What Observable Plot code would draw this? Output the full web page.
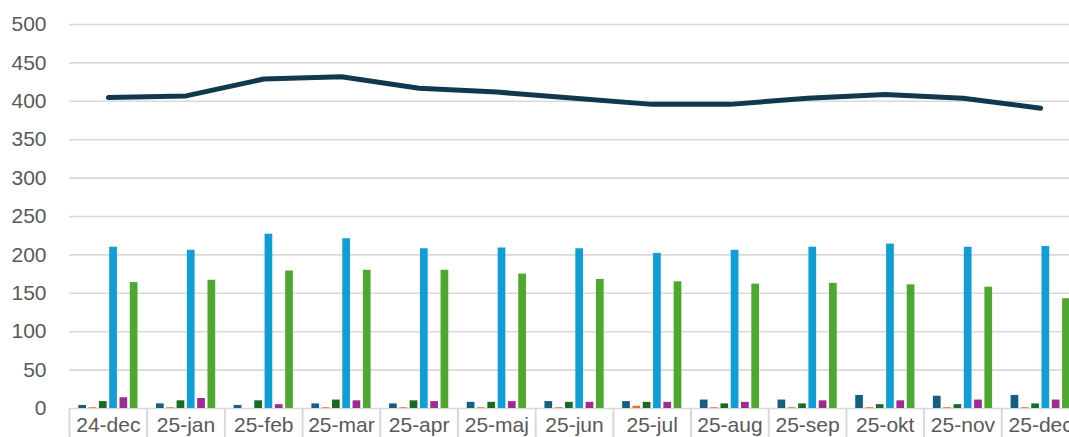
<!DOCTYPE html>
<html>
<head>
<meta charset="utf-8">
<script src="https://cdn.jsdelivr.net/npm/d3@7"></script>
<script src="https://cdn.jsdelivr.net/npm/@observablehq/plot@0.6"></script>
<style>
  html, body { margin: 0; padding: 0; background: #fff; overflow: hidden; }
</style>
</head>
<body>
<div id="chart"></div>
<script>
// ---- data ----
const months = ["24-dec","25-jan","25-feb","25-mar","25-apr","25-maj","25-jun","25-jul","25-aug","25-sep","25-okt","25-nov","25-dec"];
const total  = [405, 407, 429, 432, 417, 412, 404, 396, 396, 404, 409, 404, 391];
const serie1 = [4, 6, 4, 6, 6, 8, 9, 9, 11, 11, 17, 16, 17];
const serie2 = [1, 1, 0, 1, 1, 1, 1, 3, 1, 1, 1, 1, 1];
const serie3 = [9, 10, 10, 11, 10, 8, 8, 8, 6, 6, 5, 5, 6];
const serie4 = [210, 206, 227, 221, 208, 209, 208, 202, 206, 210, 214, 210, 211];
const serie5 = [14, 13, 5, 10, 9, 9, 8, 8, 8, 10, 10, 11, 11];
const serie6 = [164, 167, 179, 180, 180, 175, 168, 165, 162, 163, 161, 158, 143];
const yTicks = [0, 50, 100, 150, 200, 250, 300, 350, 400, 450, 500];

const seriesValues = [serie1, serie2, serie3, serie4, serie5, serie6];
const seriesColors = ["#156082", "#E97132", "#196B24", "#0F9ED5", "#A02B93", "#4EA72E"];

// ---- layout ----
const W = 1069, H = 437;
const xRange = [69, 1079];
const bw = (xRange[1] - xRange[0]) / months.length;
const groupLeft = 9.3, step = 10.3, barW = 7.7;

const idx = d3.range(months.length);

const barMarks = seriesValues.map((vals, s) =>
  Plot.barY(idx, {
    x: i => months[i],
    y: i => vals[i],
    fill: seriesColors[s],
    insetLeft: groupLeft + step * s,
    insetRight: bw - (groupLeft + step * s + barW)
  })
);

const chart = Plot.plot({
  width: W,
  height: H,
  marginTop: 24,
  marginBottom: 29,
  marginLeft: 69,
  marginRight: 0,
  style: { fontFamily: "'Liberation Sans', Arial, sans-serif", color: "#595959", background: "#fff", overflow: "hidden" },
  x: { type: "band", domain: months, range: xRange, padding: 0, round: false },
  y: { domain: [0, 500] },
  marks: [
    Plot.gridY(yTicks, { stroke: "#d9d9d9", strokeOpacity: 1, strokeWidth: 1.6 }),
    Plot.ruleX(months, { x: d => d, dx: -bw / 2, y1: 0, y2: -40, stroke: "#d9d9d9", strokeWidth: 2 }),
    Plot.axisY(yTicks, { tickSize: 0, tickPadding: 23, fontSize: 21, fill: "#595959" }),
    Plot.axisX({ tickSize: 0, tickPadding: 9, fontSize: 21, fill: "#595959" }),
    ...barMarks,
    Plot.lineY(idx, {
      x: i => months[i],
      y: i => total[i],
      stroke: "#10394f",
      strokeWidth: 5,
      strokeLinecap: "round",
      strokeLinejoin: "round"
    })
  ]
});

document.getElementById("chart").appendChild(chart);
</script>
</body>
</html>
